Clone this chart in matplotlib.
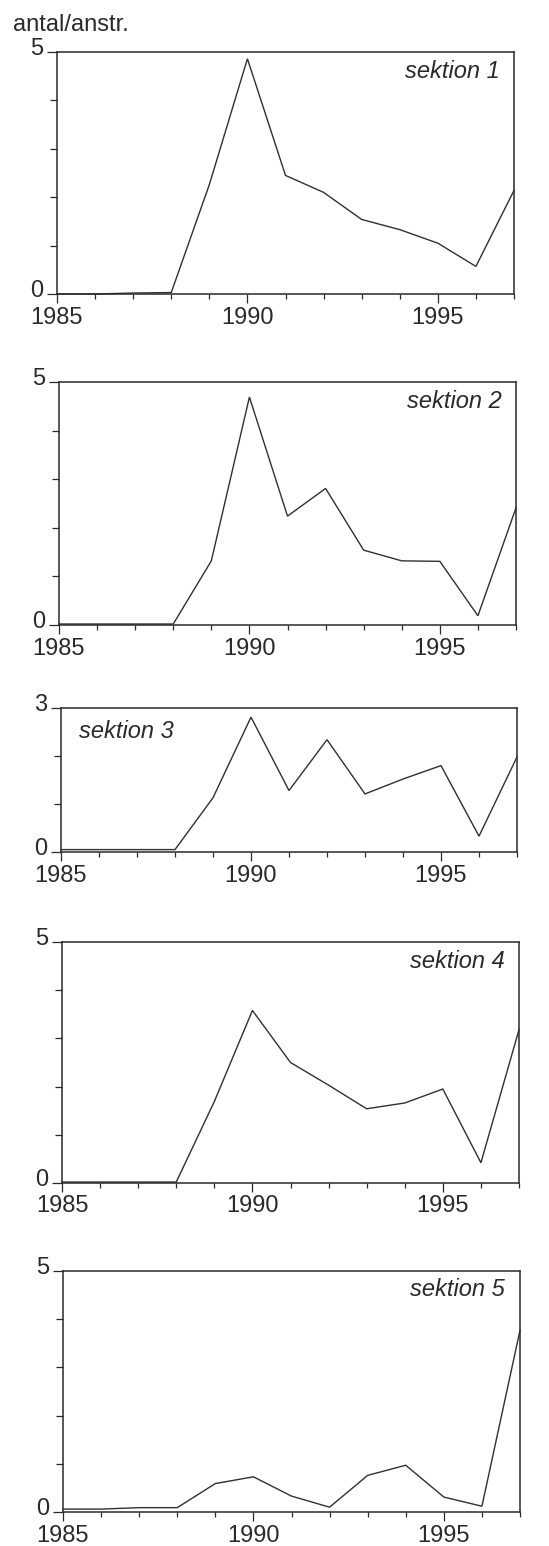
import matplotlib
matplotlib.use("Agg")
import matplotlib.pyplot as plt
from matplotlib.transforms import ScaledTranslation
from matplotlib.ticker import MultipleLocator, FixedLocator

plt.rcParams['font.family'] = ['Liberation Sans', 'DejaVu Sans']

years = list(range(1985, 1998))
sektion_1 = [0.00, 0.00, 0.02, 0.03, 2.26, 4.86, 2.45, 2.10, 1.54, 1.33, 1.05, 0.57, 2.14]
sektion_2 = [0.02, 0.02, 0.02, 0.02, 1.32, 4.69, 2.24, 2.81, 1.54, 1.32, 1.31, 0.19, 2.41]
sektion_3 = [0.05, 0.05, 0.05, 0.05, 1.13, 2.81, 1.28, 2.34, 1.21, 1.52, 1.80, 0.33, 1.98]
sektion_4 = [0.02, 0.02, 0.02, 0.02, 1.69, 3.58, 2.50, 2.03, 1.54, 1.66, 1.95, 0.42, 3.18]
sektion_5 = [0.06, 0.06, 0.09, 0.09, 0.59, 0.73, 0.33, 0.10, 0.76, 0.97, 0.31, 0.12, 3.77]
series = [sektion_1, sektion_2, sektion_3, sektion_4, sektion_5]
labels = ["sektion 1", "sektion 2", "sektion 3", "sektion 4", "sektion 5"]
ymax = [5, 5, 3, 5, 5]
x_major = [1985, 1990, 1995]
ylabel_text = "antal/anstr."

W, H = 549, 1546
fig = plt.figure(figsize=(W / 100, H / 100), dpi=100)
fig.patch.set_facecolor("white")

# panel boxes in pixels: left, right, top, bottom
boxes = [(57, 514, 52, 294),
         (59, 516, 382, 625),
         (61, 517, 708, 852),
         (62, 519, 942, 1183),
         (63, 520, 1271, 1512)]
# label placement: (side, dx px, dy px from top)
label_pos = [("right", 14, 19), ("right", 14, 20), ("left", 18, 24),
             ("right", 14, 19), ("right", 15, 18)]

ink = "#2a2a2a"
FS = 17
for i, (l, r, t, b) in enumerate(boxes):
    ax = fig.add_axes([l / W, 1 - b / H, (r - l) / W, (b - t) / H])
    ax.plot(years, series[i], color="#303030", lw=1.0, clip_on=False,
            solid_joinstyle="miter")
    ax.set_xlim(1985, 1997)
    ax.set_ylim(0, ymax[i])
    for sp in ax.spines.values():
        sp.set_linewidth(1.1)
        sp.set_color(ink)
    ax.xaxis.set_major_locator(FixedLocator(x_major))
    ax.xaxis.set_minor_locator(MultipleLocator(1))
    ax.set_xticklabels([str(v) for v in x_major])
    ax.yaxis.set_major_locator(FixedLocator([0, ymax[i]]))
    ax.yaxis.set_minor_locator(MultipleLocator(1))
    ax.tick_params(axis="x", which="major", direction="out", length=6.5,
                   width=0.9, color=ink, labelsize=FS, pad=2.5, labelcolor=ink)
    ax.tick_params(axis="x", which="minor", direction="out", length=3.8,
                   width=0.9, color=ink)
    ax.tick_params(axis="y", which="major", direction="out", length=7.5,
                   width=0.9, color=ink, labelsize=FS, pad=2.5, labelcolor=ink)
    ax.tick_params(axis="y", which="minor", direction="out", length=5,
                   width=0.9, color=ink)
    for lab in ax.get_yticklabels():
        lab.set_transform(lab.get_transform() +
                          ScaledTranslation(0, 4 / 72, fig.dpi_scale_trans))
    side, dx, dy = label_pos[i]
    wpx, hpx = r - l, b - t
    if side == "right":
        ax.text(1 - dx / wpx, 1 - dy / hpx, labels[i], transform=ax.transAxes,
                ha="right", va="center", fontsize=FS, style="italic", color=ink)
    else:
        ax.text(dx / wpx, 1 - dy / hpx, labels[i], transform=ax.transAxes,
                ha="left", va="center", fontsize=FS, style="italic", color=ink)

fig.text(13 / W, 1 - 31 / H, ylabel_text, ha="left", va="baseline",
         fontsize=FS, color=ink)

fig.savefig("out.png", dpi=100, facecolor="white")
